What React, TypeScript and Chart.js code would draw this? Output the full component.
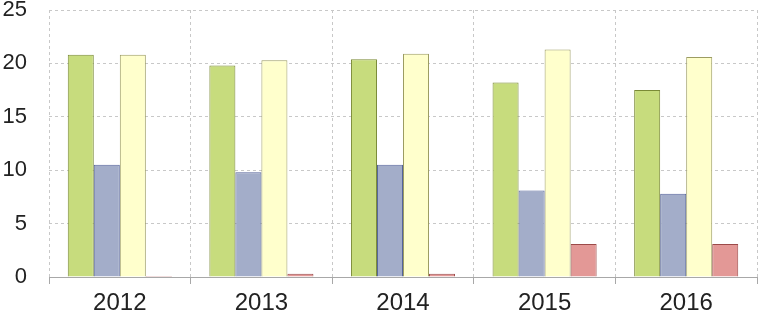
import React, { useEffect, useRef } from "react";
import { Chart, registerables } from "chart.js";

Chart.register(...registerables);

const categories = ["2012", "2013", "2014", "2015", "2016"];
const seriesGreen = [20.8, 19.8, 20.4, 18.2, 17.5];
const seriesBlue = [10.5, 9.8, 10.5, 8.1, 7.8];
const seriesYellow = [20.8, 20.3, 20.9, 21.3, 20.6];
const seriesRed = [0.1, 0.3, 0.3, 3.1, 3.1];
const yTicks = [0, 5, 10, 15, 20, 25];

export default function App() {
  const ref = useRef<HTMLCanvasElement | null>(null);
  useEffect(() => {
    document.body.style.margin = "0";
    const ctx = ref.current!;
    const mk = (data: number[], bg: string, bc: string) => ({
      data,
      backgroundColor: bg,
      borderColor: bc,
      borderWidth: 1,
      borderSkipped: "bottom" as const,
      categoryPercentage: 0.735,
      barPercentage: 1,
    });
    const chart = new Chart(ctx, {
      type: "bar",
      data: {
        labels: categories,
        datasets: [
          mk(seriesGreen, "#c7dc7d", "#7a8a36"),
          mk(seriesBlue, "#a3adc9", "#55649a"),
          mk(seriesYellow, "#ffffcc", "#9c9c62"),
          mk(seriesRed, "#e39896", "#9c4a49"),
        ],
      },
      options: {
        responsive: false,
        animation: false,
        layout: { padding: { top: 10, right: 2, left: 0, bottom: 0 } },
        plugins: { legend: { display: false }, tooltip: { enabled: false } },
        scales: {
          x: {
            grid: {
              offset: true,
              color: "#c8c8c8",
              tickBorderDash: [],
              tickColor: "#a8a8a8",
              tickLength: 7,
              drawTicks: true,
            },
            border: { display: true, color: "#a8a8a8", width: 1, dash: [3, 3] },
            ticks: {
              color: "#222",
              padding: 5,
              font: { family: "'Liberation Sans', Arial, sans-serif", size: 24 },
            },
            afterFit: (s: any) => {
              s.height = 34;
              s.paddingLeft = 0;
              s.paddingRight = 0;
            },
          },
          y: {
            min: 0,
            max: 25,
            afterBuildTicks: (s: any) => {
              s.ticks = yTicks.map((v) => ({ value: v }));
            },
            grid: {
              color: "#c8c8c8",
              drawTicks: false,
            },
            border: { display: false, dash: [3, 3] },
            ticks: {
              color: "#222",
              padding: 22,
              font: { family: "'Liberation Sans', Arial, sans-serif", size: 22 },
            },
            afterFit: (s: any) => {
              s.width = 49;
              s.paddingTop = 0;
              s.paddingBottom = 0;
            },
          },
        },
      },
    });
    return () => chart.destroy();
  }, []);
  return (
    <div style={{ position: "absolute", left: 0, top: 0, width: 759, height: 311 }}>
      <canvas ref={ref} width={759} height={311} style={{ display: "block" }} />
    </div>
  );
}
